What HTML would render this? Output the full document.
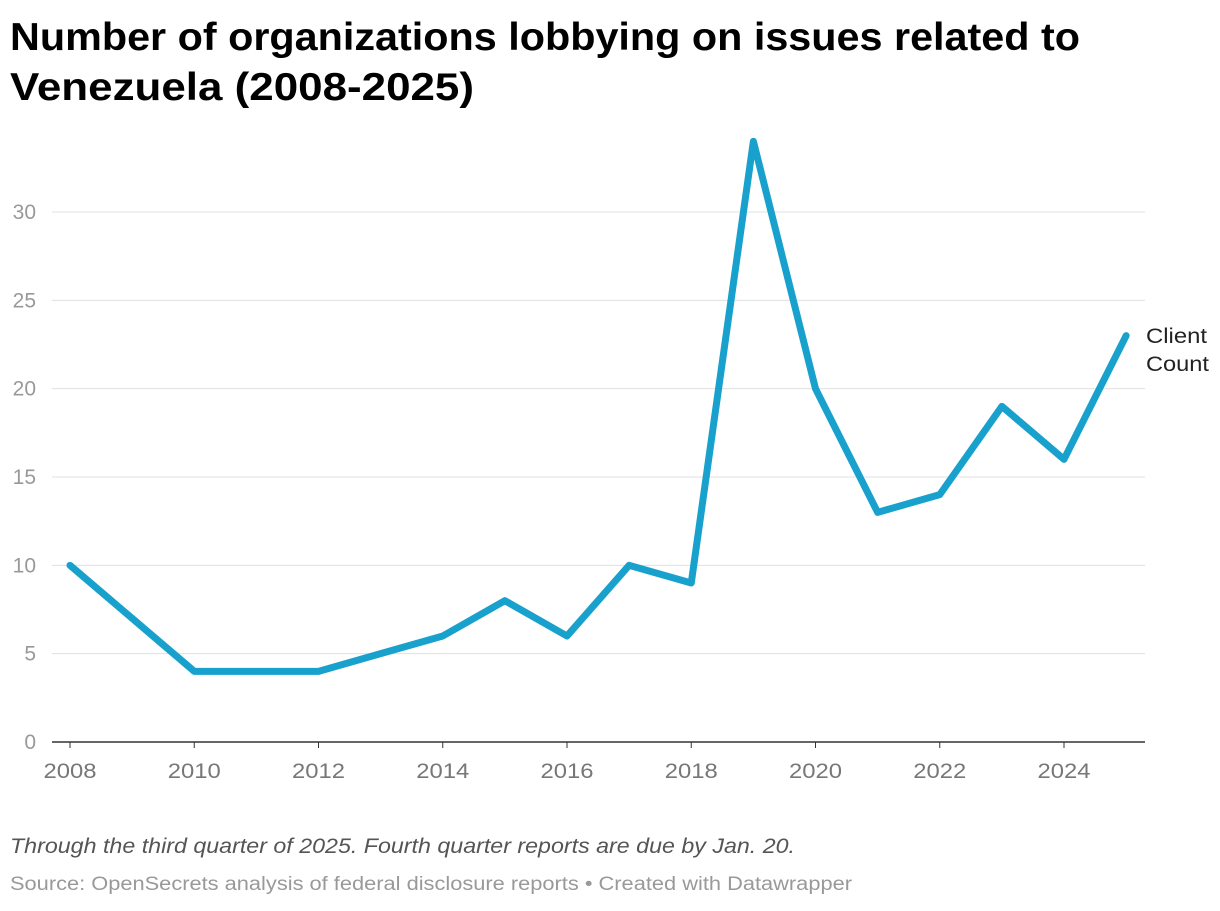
<!DOCTYPE html>
<html><head><meta charset="utf-8"><style>
body{margin:0;background:#fff;width:1220px;height:906px;overflow:hidden;font-family:"Liberation Sans",sans-serif}
</style></head><body>
<svg width="1220" height="906">
<text x="10" y="50" font-size="39" font-weight="bold" fill="#000" textLength="1070" lengthAdjust="spacingAndGlyphs">Number of organizations lobbying on issues related to</text>
<text x="10" y="100" font-size="39" font-weight="bold" fill="#000" textLength="464" lengthAdjust="spacingAndGlyphs">Venezuela (2008-2025)</text>
<g id="grid"></g><g id="xax"></g>
<polyline id="line" fill="none" stroke="#18a1cd" stroke-width="7" stroke-linejoin="round" stroke-linecap="round"/>
<text x="1146" y="343" font-size="21" fill="#222" textLength="61" lengthAdjust="spacingAndGlyphs">Client</text>
<text x="1146" y="371" font-size="21" fill="#222" textLength="63" lengthAdjust="spacingAndGlyphs">Count</text>
<text x="10" y="853" font-size="21" font-style="italic" fill="#555" textLength="785" lengthAdjust="spacingAndGlyphs">Through the third quarter of 2025. Fourth quarter reports are due by Jan. 20.</text>
<text x="10" y="890" font-size="19" fill="#999" textLength="842" lengthAdjust="spacingAndGlyphs">Source: OpenSecrets analysis of federal disclosure reports • Created with Datawrapper</text>
</svg>
<script>
const years=[2008,2009,2010,2011,2012,2013,2014,2015,2016,2017,2018,2019,2020,2021,2022,2023,2024,2025];
const counts=[10,7,4,4,4,5,6,8,6,10,9,34,20,13,14,19,16,23];
const yTicks=[0,5,10,15,20,25,30];
const xTicks=[2008,2010,2012,2014,2016,2018,2020,2022,2024];
const NS="http://www.w3.org/2000/svg";
const x=v=>70+(v-2008)*62.125, y=v=>742-v*17.667;
const g=document.getElementById('grid'), xa=document.getElementById('xax');
function mk(tag,at,par,txt){const e=document.createElementNS(NS,tag);for(const k in at)e.setAttribute(k,at[k]);if(txt!=null)e.textContent=txt;par.appendChild(e);return e;}
yTicks.forEach(t=>{
 if(t>0){const l=mk('line',{x1:52,x2:1145,y1:y(t),y2:y(t),stroke:'#e0e0e0','stroke-width':1},g);
 
 }
 const tx=mk('text',{x:36,y:y(t)+7,'font-size':21,fill:'#999','text-anchor':'end'},g,t);
 
 
});
const ax=mk('line',{x1:52,x2:1145,y1:742,y2:742,stroke:'#333','stroke-width':1.5},xa);


xTicks.forEach(t=>{
 const tk=mk('line',{x1:x(t),x2:x(t),y1:742,y2:748,stroke:'#333','stroke-width':1},xa);
 
 
 const tx=mk('text',{x:x(t),y:778,'font-size':21,fill:'#777','text-anchor':'middle',textLength:53,lengthAdjust:'spacingAndGlyphs'},xa,t);
 
 
});
document.getElementById('line').setAttribute('points',years.map((yr,i)=>x(yr)+','+y(counts[i])).join(' '));
</script>
</body></html>
